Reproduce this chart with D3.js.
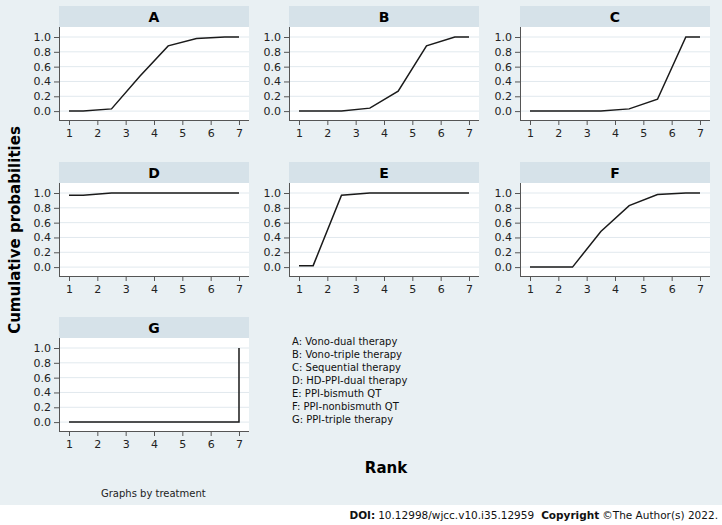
<!DOCTYPE html>
<meta charset="utf-8">
<style>
body { margin: 0; background: #fff; }
text { font-family: "DejaVu Sans", Verdana, sans-serif; }
.grid line { stroke: #e1e9ee; }
.axis path, .axis line { stroke: #555; }
.axis text { fill: #222; font-size: 11px; }
</style>
<svg width="722" height="525"></svg>
<script src="https://cdn.jsdelivr.net/npm/d3@7"></script>
<script>

var svg = d3.select("svg");

// chart data
var panels = ["A", "B", "C", "D", "E", "F", "G"];
var rankPos = [1, 1.5, 2.5, 3.5, 4.5, 5.5, 6.5, 7];
var rankPosG = [1, 1.5, 2.5, 3.5, 4.5, 5.5, 6.5, 7, 7];
var probA = [0, 0, 0.03, 0.47, 0.88, 0.98, 1.0, 1.0];
var probB = [0, 0, 0, 0.04, 0.27, 0.88, 1.0, 1.0];
var probC = [0, 0, 0, 0, 0.03, 0.16, 1.0, 1.0];
var probD = [0.97, 0.97, 1.0, 1.0, 1.0, 1.0, 1.0, 1.0];
var probE = [0.02, 0.02, 0.97, 1.0, 1.0, 1.0, 1.0, 1.0];
var probF = [0, 0, 0, 0.48, 0.83, 0.98, 1.0, 1.0];
var probG = [0, 0, 0, 0, 0, 0, 0, 0, 1.0];
var xTicks = [1, 2, 3, 4, 5, 6, 7];
var yTicks = [0, 0.2, 0.4, 0.6, 0.8, 1.0];
var legendLines = ["A: Vono-dual therapy", "B: Vono-triple therapy", "C: Sequential therapy",
  "D: HD-PPI-dual therapy", "E: PPI-bismuth QT", "F: PPI-nonbismuth QT", "G: PPI-triple therapy"];

var series = [
  {x: rankPos, y: probA}, {x: rankPos, y: probB}, {x: rankPos, y: probC},
  {x: rankPos, y: probD}, {x: rankPos, y: probE}, {x: rankPos, y: probF},
  {x: rankPosG, y: probG}
];

// background
svg.append("rect").attr("width", 722).attr("height", 505).attr("fill", "#e9f0f3");

var colLeft = [59, 289, 520], rowTop = [6, 162, 317];
var pw = 190, stripH = 21, ph = 93;

var x = d3.scaleLinear().domain([0.647, 7.353]).range([0, pw]);
var y = d3.scaleLinear().domain([-0.12, 1.135]).range([ph, 0]);
var line = d3.line().x(function(d) { return x(d[0]); }).y(function(d) { return y(d[1]); });

panels.forEach(function(name, i) {
  var g = svg.append("g")
      .attr("transform", "translate(" + colLeft[i % 3] + "," + rowTop[Math.floor(i / 3)] + ")");

  g.append("rect").attr("width", pw).attr("height", stripH).attr("fill", "#d6e2e9");
  g.append("text")
      .attr("x", pw / 2).attr("y", stripH / 2 + 5)
      .attr("text-anchor", "middle")
      .attr("font-weight", "bold").attr("font-size", "14px")
      .text(name);

  var p = g.append("g").attr("transform", "translate(0," + stripH + ")");
  p.append("rect").attr("width", pw).attr("height", ph).attr("fill", "#fff");

  p.append("g").attr("class", "grid")
    .selectAll("line").data(yTicks).enter().append("line")
      .attr("x1", 0).attr("x2", pw)
      .attr("y1", function(d) { return y(d); }).attr("y2", function(d) { return y(d); });

  var s = series[i];
  p.append("path")
      .datum(s.x.map(function(v, k) { return [v, s.y[k]]; }))
      .attr("fill", "none").attr("stroke", "#1a1a1a").attr("stroke-width", 1.5)
      .attr("d", line);

  p.append("g").attr("class", "axis yax")
      .call(d3.axisLeft(y).tickValues(yTicks).tickSize(5).tickPadding(3)
        .tickFormat(d3.format(".1f")));

  p.append("g").attr("class", "axis xax")
      .attr("transform", "translate(0," + ph + ")")
      .call(d3.axisBottom(x).tickValues(xTicks).tickSize(5).tickPadding(4)
        .tickFormat(d3.format("d")));

  p.select(".yax .domain").attr("d", "M0.5,0V" + ph);
  p.select(".xax .domain").attr("d", "M0,0.5H" + pw);
});

// legend
svg.append("g").selectAll("text").data(legendLines).enter().append("text")
    .attr("x", 292).attr("y", function(d, i) { return 345 + i * 13; })
    .attr("font-size", "10px").attr("fill", "#111")
    .text(function(d) { return d; });

// axis titles
svg.append("text")
    .attr("transform", "translate(20,230) rotate(-90)")
    .attr("text-anchor", "middle")
    .attr("font-weight", "bold").attr("font-size", "15px")
    .text("Cumulative probabilities");

svg.append("text")
    .attr("x", 386).attr("y", 473)
    .attr("text-anchor", "middle")
    .attr("font-weight", "bold").attr("font-size", "15px")
    .text("Rank");

svg.append("text")
    .attr("x", 101).attr("y", 497)
    .attr("font-size", "10px").attr("fill", "#222")
    .text("Graphs by treatment");

// footer
var foot = svg.append("text")
    .attr("x", 718).attr("y", 519)
    .attr("text-anchor", "end")
    .attr("font-size", "10.5px").attr("fill", "#111");
foot.append("tspan").attr("font-weight", "bold").text("DOI:");
foot.append("tspan").attr("dx", 3).text("10.12998/wjcc.v10.i35.12959");
foot.append("tspan").attr("dx", 7).attr("font-weight", "bold").text("Copyright");
foot.append("tspan").attr("dx", 3).text("\u00a9The Author(s) 2022.");
</script>
